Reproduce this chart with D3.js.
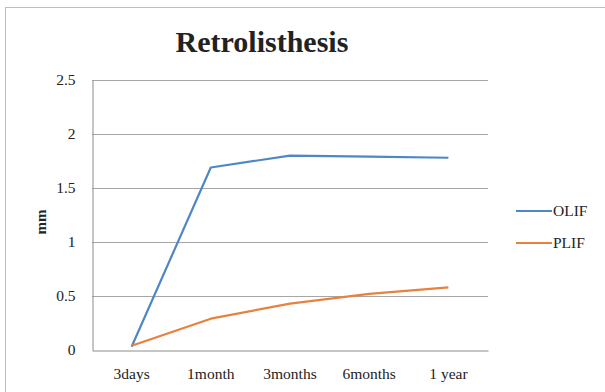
<!DOCTYPE html>
<html>
<head>
<meta charset="utf-8">
<script src="https://cdn.jsdelivr.net/npm/d3@7/dist/d3.min.js"></script>
<style>
  html, body { margin: 0; padding: 0; background: #fff; }
  svg { display: block; }
  text { font-family: "Liberation Serif", "Times New Roman", serif; fill: #222; }
</style>
</head>
<body>
<svg id="chart" width="605" height="392"></svg>
<script>
const categories = ["3days", "1month", "3months", "6months", "1 year"];
const olif = [0.03, 1.69, 1.80, 1.79, 1.78];
const plif = [0.04, 0.29, 0.43, 0.52, 0.58];
const yTicks = [0, 0.5, 1, 1.5, 2, 2.5];
const seriesNames = ["OLIF", "PLIF"];
const seriesColors = ["#4f86c6", "#e6813f"];

const svg = d3.select("#chart");
const plot = { left: 92, right: 488, top: 80, bottom: 350 };

// chart frame
svg.append("rect")
  .attr("x", 5.5).attr("y", 7.5)
  .attr("width", 620).attr("height", 400)
  .attr("fill", "#fff").attr("stroke", "#bdbdbd");

const x = d3.scaleBand().domain(categories).range([plot.left, plot.right]);
const y = d3.scaleLinear().domain([0, 2.5]).range([plot.bottom, plot.top]);

// horizontal gridlines
svg.append("g").selectAll("line").data(yTicks.filter(d => d > 0)).join("line")
  .attr("x1", plot.left).attr("x2", plot.right)
  .attr("y1", d => Math.round(y(d)) + 0.5).attr("y2", d => Math.round(y(d)) + 0.5)
  .attr("stroke", "#a6a6a6").attr("stroke-width", 1);

// y axis
const yAxis = svg.append("g")
  .attr("transform", `translate(${plot.left + 0.5},0)`)
  .attr("font-family", null)
  .call(d3.axisLeft(y).tickValues(yTicks).tickSize(0).tickPadding(17).tickFormat(d3.format("~g")));
yAxis.attr("font-family", "'Liberation Serif', serif");
yAxis.select(".domain").attr("stroke", "#8c8c8c");
yAxis.selectAll("text").style("font-size", "15.5px").attr("fill", "#222");

// x axis
const xAxis = svg.append("g")
  .attr("transform", `translate(0,${plot.bottom + 0.5})`)
  .call(d3.axisBottom(x).tickSize(0).tickPadding(17));
xAxis.attr("font-family", "'Liberation Serif', serif");
xAxis.select(".domain").attr("stroke", "#8c8c8c");
xAxis.selectAll("text").style("font-size", "15.5px").attr("fill", "#222");

// series lines
const line = d3.line()
  .x((d, i) => x(categories[i]) + x.bandwidth() / 2)
  .y(d => y(d));
[olif, plif].forEach((vals, k) => {
  svg.append("path").datum(vals)
    .attr("d", line)
    .attr("fill", "none")
    .attr("stroke", seriesColors[k])
    .attr("stroke-width", 2.2)
    .attr("stroke-linejoin", "round");
});

// title
svg.append("text")
  .attr("x", 262).attr("y", 52)
  .attr("text-anchor", "middle")
  .style("font-size", "30px").style("font-weight", "bold")
  .text("Retrolisthesis");

// y axis label
svg.append("text")
  .attr("transform", "translate(46,222) rotate(-90)")
  .attr("text-anchor", "middle")
  .style("font-size", "15px").style("font-weight", "bold")
  .text("mm");

// legend
const legend = svg.append("g").selectAll("g").data(seriesNames).join("g")
  .attr("transform", (d, i) => `translate(516,${211 + i * 32})`);
legend.append("line")
  .attr("x1", 0).attr("x2", 36).attr("y1", 0).attr("y2", 0)
  .attr("stroke", (d, i) => seriesColors[i]).attr("stroke-width", 2.2);
legend.append("text")
  .attr("x", 37).attr("y", 5)
  .style("font-size", "15.5px")
  .text(d => d);
</script>
</body>
</html>
